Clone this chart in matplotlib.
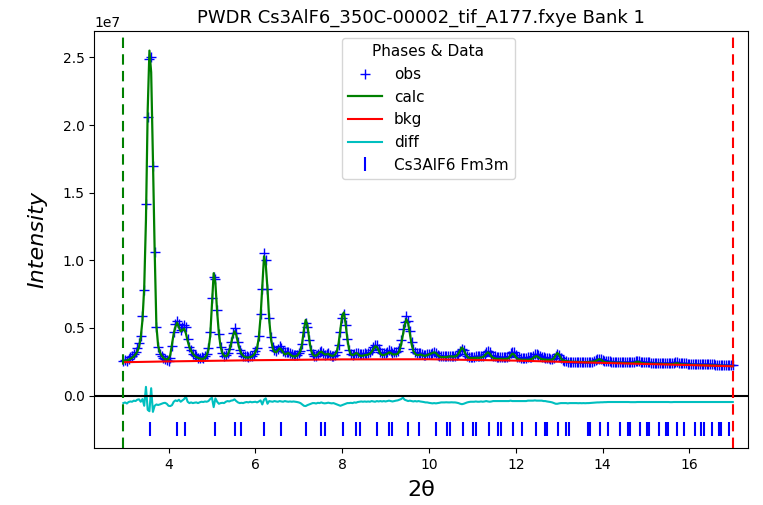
import numpy as np
import matplotlib
matplotlib.use('Agg')
import matplotlib.pyplot as plt

TITLE = 'PWDR Cs3AlF6_350C-00002_tif_A177.fxye Bank 1'
PHASE_NAME = 'Cs3AlF6 Fm3m'
LIMITS = (2.96, 17.0)      # 2-theta range used in the refinement
SCALE = 1e6                # intensities below are in units of 1e6 counts
DIFF_OFFSET = -0.55e6
TICK_LEVEL = -2.46e6

# calculated profile, one value per 0.04 deg step from 2.96 to 17.00
calc = [
    2.55, 2.58, 2.60, 2.65, 2.72, 2.80, 2.90, 3.05, 3.25, 3.60,
    4.30, 5.60, 8.00, 13.0, 21.1, 25.5, 23.9, 17.6, 10.8, 5.20,
    3.70, 3.20, 2.95, 2.80, 2.70, 2.66, 2.75, 3.00, 3.80, 4.60,
    5.10, 5.40, 5.05, 4.75, 4.85, 4.95, 4.60, 4.05, 3.60, 3.30,
    3.10, 2.95, 2.85, 2.80, 2.75, 2.72, 2.72, 2.80, 3.00, 3.40,
    4.40, 6.80, 9.05, 8.30, 6.20, 4.60, 3.60, 3.15, 2.95, 2.90,
    3.00, 3.30, 3.80, 4.40, 4.75, 4.50, 3.90, 3.40, 3.10, 2.95,
    2.85, 2.82, 2.82, 2.85, 2.90, 3.00, 3.20, 3.50, 4.30, 5.80,
    8.00, 10.3, 9.70, 7.90, 5.60, 4.20, 3.50, 3.25, 3.20, 3.35,
    3.50, 3.40, 3.20, 3.05, 3.10, 3.15, 3.05, 2.95, 2.90, 2.90,
    2.95, 3.10, 3.30, 3.90, 4.90, 5.60, 5.20, 4.20, 3.40, 3.05,
    2.95, 2.95, 3.05, 3.20, 3.25, 3.15, 3.05, 3.05, 3.10, 3.00,
    2.95, 2.95, 3.05, 3.30, 3.90, 4.90, 5.90, 6.15, 5.30, 4.20,
    3.40, 3.05, 3.00, 3.05, 3.15, 3.10, 2.95, 2.95, 2.95, 3.00,
    3.00, 3.05, 3.10, 3.25, 3.45, 3.65, 3.60, 3.35, 3.10, 3.00,
    3.00, 3.05, 3.10, 3.20, 3.15, 3.05, 3.05, 3.05, 3.10, 3.30,
    3.80, 4.50, 5.20, 5.65, 5.35, 4.60, 3.80, 3.30, 3.10, 3.00,
    3.00, 3.05, 3.00, 2.95, 2.95, 3.00, 3.05, 3.10, 3.15, 3.20,
    3.15, 3.00, 2.90, 2.85, 2.85, 2.85, 2.85, 2.88, 2.90, 2.90,
    2.88, 2.90, 2.95, 3.10, 3.35, 3.55, 3.40, 3.10, 2.90, 2.80,
    2.78, 2.78, 2.78, 2.80, 2.80, 2.80, 2.82, 2.85, 2.95, 3.10,
    3.20, 3.10, 2.90, 2.80, 2.75, 2.72, 2.72, 2.72, 2.72, 2.72,
    2.72, 2.73, 2.78, 2.95, 3.10, 3.05, 2.85, 2.72, 2.68, 2.66,
    2.65, 2.65, 2.65, 2.65, 2.66, 2.70, 2.78, 2.88, 2.92, 2.85,
    2.75, 2.70, 2.68, 2.66, 2.65, 2.65, 2.65, 2.66, 2.75, 3.00,
    3.15, 3.00, 2.75, 2.62, 2.58, 2.55, 2.53, 2.52, 2.51, 2.51,
    2.50, 2.50, 2.49, 2.49, 2.48, 2.48, 2.48, 2.48, 2.49, 2.50,
    2.50, 2.52, 2.56, 2.63, 2.69, 2.66, 2.56, 2.49, 2.46, 2.45,
    2.45, 2.44, 2.44, 2.43, 2.43, 2.43, 2.43, 2.42, 2.42, 2.41,
    2.41, 2.40, 2.40, 2.40, 2.42, 2.46, 2.51, 2.49, 2.43, 2.40,
    2.38, 2.38, 2.37, 2.37, 2.36, 2.36, 2.36, 2.36, 2.36, 2.35,
    2.35, 2.34, 2.34, 2.34, 2.33, 2.33, 2.33, 2.35, 2.38, 2.39,
    2.36, 2.32, 2.31, 2.30, 2.30, 2.29, 2.29, 2.28, 2.28, 2.28,
    2.27, 2.27, 2.26, 2.26, 2.26, 2.25, 2.25, 2.24, 2.24, 2.23,
    2.23, 2.22, 2.22, 2.22, 2.21, 2.21, 2.20, 2.20, 2.20, 2.19,
    2.19, 2.18,
]

# observed minus calculated at the same steps
resid = [
    0.00, 0.05, -0.03, 0.08, 0.12, 0.10, 0.18, 0.15, 0.25, 0.28,
    0.10, 0.30, -0.20, 1.20, -0.50, -0.60, 1.10, -0.65, -0.20, -0.10,
    -0.14, -0.10, -0.05, 0.00, 0.02, -0.05, -0.20, -0.22, -0.15, 0.10,
    0.20, 0.15, 0.25, 0.10, 0.20, 0.30, 0.48, 0.10, 0.00, 0.05,
    0.00, 0.03, 0.05, 0.00, 0.06, 0.10, 0.08, 0.12, 0.10, 0.15,
    0.30, 0.40, -0.30, 0.35, 0.10, -0.05, 0.00, 0.02, 0.00, 0.10,
    0.15, 0.12, 0.18, 0.20, 0.28, 0.15, 0.05, 0.00, 0.02, 0.00,
    0.05, 0.08, 0.05, 0.10, 0.06, 0.08, 0.10, 0.05, 0.12, 0.20,
    -0.10, 0.25, 0.35, -0.05, 0.15, 0.12, 0.10, 0.15, 0.12, 0.10,
    0.15, 0.12, 0.10, 0.15, 0.12, 0.10, 0.12, 0.10, 0.12, 0.10,
    0.08, 0.05, 0.00, -0.10, -0.20, -0.22, -0.15, -0.10, -0.05, 0.00,
    0.00, -0.03, 0.02, 0.00, 0.05, 0.00, -0.02, 0.00, 0.03, 0.00,
    -0.02, 0.00, -0.05, -0.10, -0.15, -0.20, -0.15, -0.10, -0.05, 0.00,
    0.00, 0.02, 0.00, 0.05, 0.03, 0.08, 0.10, 0.12, 0.10, 0.12,
    0.10, 0.12, 0.10, 0.15, 0.12, 0.10, 0.15, 0.12, 0.15, 0.12,
    0.15, 0.12, 0.15, 0.18, 0.15, 0.12, 0.15, 0.18, 0.20, 0.25,
    0.30, 0.40, 0.25, 0.20, 0.15, 0.18, 0.15, 0.12, 0.15, 0.12,
    0.15, 0.12, 0.10, 0.08, 0.05, 0.05, 0.02, 0.00, -0.02, 0.00,
    -0.02, 0.00, 0.02, 0.05, 0.05, 0.05, 0.06, 0.05, 0.05, 0.06,
    0.05, 0.05, 0.03, 0.00, -0.05, -0.08, -0.05, 0.00, 0.05, 0.08,
    0.10, 0.10, 0.10, 0.12, 0.10, 0.10, 0.12, 0.10, 0.12, 0.15,
    0.12, 0.10, 0.12, 0.15, 0.15, 0.15, 0.15, 0.15, 0.15, 0.15,
    0.15, 0.15, 0.15, 0.18, 0.15, 0.15, 0.15, 0.15, 0.15, 0.15,
    0.15, 0.15, 0.15, 0.18, 0.18, 0.18, 0.18, 0.20, 0.18, 0.18,
    0.18, 0.18, 0.15, 0.15, 0.12, 0.10, 0.08, 0.05, 0.00, -0.05,
    -0.05, -0.02, 0.00, 0.00, 0.00, 0.00, -0.02, 0.00, 0.00, 0.00,
    0.00, 0.00, -0.01, 0.00, -0.01, 0.00, -0.01, 0.00, 0.00, 0.01,
    0.02, 0.03, 0.04, 0.05, 0.05, 0.06, 0.06, 0.07, 0.07, 0.08,
    0.08, 0.08, 0.08, 0.08, 0.08, 0.08, 0.08, 0.08, 0.08, 0.08,
    0.08, 0.08, 0.07, 0.07, 0.07, 0.07, 0.08, 0.08, 0.08, 0.08,
    0.08, 0.08, 0.08, 0.08, 0.08, 0.08, 0.08, 0.08, 0.08, 0.08,
    0.08, 0.08, 0.08, 0.08, 0.08, 0.07, 0.07, 0.08, 0.08, 0.08,
    0.08, 0.08, 0.08, 0.08, 0.08, 0.08, 0.08, 0.08, 0.08, 0.08,
    0.08, 0.08, 0.08, 0.08, 0.08, 0.08, 0.08, 0.08, 0.08, 0.08,
    0.08, 0.08, 0.08, 0.08, 0.08, 0.08, 0.08, 0.08, 0.08, 0.08,
    0.08, 0.08,
]

# background curve
bkg_tth = [2.96, 4.0, 6.0, 8.0, 10.0, 12.0, 14.0, 16.0, 17.0]
bkg = [2.47, 2.53, 2.62, 2.68, 2.69, 2.59, 2.42, 2.26, 2.17]

# reflection positions for the phase
refl_tth = [
    3.570, 4.192, 4.380, 5.063, 5.520, 5.665, 6.209, 6.588, 7.176, 7.506,
    7.613, 8.028, 8.325, 8.422, 8.798, 9.071, 9.160, 9.508, 9.760, 10.168,
    10.405, 10.483, 10.788, 11.012, 11.086, 11.375, 11.588, 11.658, 11.935, 12.138,
    12.469, 12.663, 12.727, 12.981, 13.168, 13.230, 13.655, 13.714, 13.950, 14.125,
    14.411, 14.581, 14.637, 14.859, 15.023, 15.077, 15.293, 15.452, 15.505, 15.715,
    15.871, 16.125, 16.278, 16.328, 16.528, 16.677, 16.726, 16.920,
]


def main():
    tth = np.linspace(LIMITS[0], LIMITS[1], len(calc))
    ycalc = np.array(calc) * SCALE
    yobs = ycalc + np.array(resid) * SCALE
    ydiff = yobs - ycalc + DIFF_OFFSET
    ybkg = np.array(bkg) * SCALE

    fig, ax = plt.subplots(figsize=(7.63, 5.05), dpi=100)
    fig.subplots_adjust(left=0.1236, right=0.9803, top=0.9392, bottom=0.1123)

    ax.plot(tth, yobs, '+', color='b', ms=7, mew=1.0, label='obs')
    ax.plot(tth, ycalc, '-', color='g', lw=1.6, label='calc')
    ax.plot(bkg_tth, ybkg, '-', color='r', lw=1.5, label='bkg')
    ax.plot(tth, ydiff, '-', color='c', lw=1.5, label='diff')
    ax.plot(refl_tth, [TICK_LEVEL] * len(refl_tth), '|', color='b',
            ms=9.5, mew=1.5, label=PHASE_NAME)

    ax.axhline(0, color='k', lw=1.5)
    ax.axvline(LIMITS[0], color='g', ls='--', lw=1.5, dashes=(5, 3))
    ax.axvline(LIMITS[1], color='r', ls='--', lw=1.5, dashes=(5, 3))

    ax.set_xlim(2.29, 17.35)
    ax.set_ylim(-0.389e7, 2.697e7)
    ax.set_title(TITLE, fontsize=13)
    ax.set_xlabel('2θ', fontsize=16, labelpad=6)
    ax.set_ylabel('Intensity', fontsize=16, style='italic', labelpad=11)

    ax.legend(loc='upper center', bbox_to_anchor=(0.511, 1.0),
              title='Phases & Data', fontsize=11, title_fontsize=11,
              handlelength=2.2)

    fig.savefig('out.png', dpi=100)


if __name__ == '__main__':
    main()
